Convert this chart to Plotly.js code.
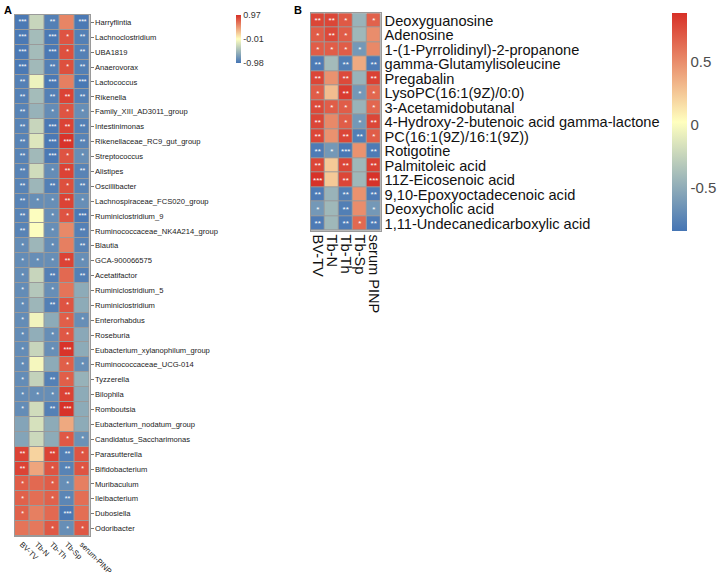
<!DOCTYPE html>
<html>
<head>
<meta charset="utf-8">
<script src="https://cdn.plot.ly/plotly-3.0.1.min.js"></script>
<style>html,body{margin:0;padding:0;background:#fff;}#chart{width:719px;height:578px;}</style>
</head>
<body>
<div id="chart"></div>
<script>
// ---------- Panel A data ----------
const aCols = ['BV-TV','Tb-N','Tb-Th','Tb-Sp','serum-PINP'];
const aRows = ['Harryflintia','Lachnoclostridium','UBA1819','Anaerovorax','Lactococcus','Rikenella',
 'Family_XIII_AD3011_group','Intestinimonas','Rikenellaceae_RC9_gut_group','Streptococcus','Alistipes',
 'Oscillibacter','Lachnospiraceae_FCS020_group','Ruminiclostridium_9','Ruminococcaceae_NK4A214_group',
 'Blautia','GCA-900066575','Acetatifactor','Ruminiclostridium_5','Ruminiclostridium','Enterorhabdus',
 'Roseburia','Eubacterium_xylanophilum_group','Ruminococcaceae_UCG-014','Tyzzerella','Bilophila',
 'Romboutsia','Eubacterium_nodatum_group','Candidatus_Saccharimonas','Parasutterella','Bifidobacterium',
 'Muribaculum','Ileibacterium','Dubosiella','Odoribacter'];
const aValues = [
 [-0.95,-0.30,-0.90, 0.57,-0.95],
 [-0.95,-0.48,-0.95, 0.80,-0.90],
 [-0.95,-0.48,-0.95, 0.82,-0.90],
 [-0.95,-0.50,-0.90, 0.82,-0.90],
 [-0.90,-0.10,-0.95, 0.60,-0.96],
 [-0.90,-0.48,-0.90, 0.88,-0.90],
 [-0.88,-0.55,-0.82, 0.80,-0.80],
 [-0.88,-0.30,-0.95, 0.88,-0.90],
 [-0.88,-0.18,-0.95, 0.95,-0.88],
 [-0.88,-0.50,-0.95, 0.80,-0.80],
 [-0.88,-0.25,-0.82, 0.88,-0.88],
 [-0.88,-0.52,-0.90, 0.82,-0.88],
 [-0.88,-0.80,-0.80, 0.88,-0.80],
 [-0.88,-0.02,-0.80, 0.80,-0.95],
 [-0.88,-0.02,-0.80, 0.55,-0.90],
 [-0.82,-0.52,-0.82, 0.60,-0.88],
 [-0.82,-0.80,-0.80, 0.88,-0.80],
 [-0.82,-0.30,-0.90, 0.70,-0.90],
 [-0.82,-0.40,-0.80, 0.65,-0.60],
 [-0.82,-0.52,-0.90, 0.80,-0.60],
 [-0.82,-0.08,-0.60, 0.75,-0.80],
 [-0.82,-0.58,-0.80, 0.78,-0.62],
 [-0.82,-0.30,-0.80, 0.95,-0.60],
 [-0.82,-0.06,-0.60, 0.75,-0.80],
 [-0.82,-0.32,-0.90, 0.75,-0.55],
 [-0.82,-0.80,-0.80, 0.88,-0.60],
 [-0.82,-0.25,-0.90, 0.96,-0.60],
 [-0.65,-0.22,-0.60, 0.40,-0.60],
 [-0.65,-0.28,-0.60, 0.78,-0.78],
 [ 0.88, 0.20, 0.88,-0.90, 0.80],
 [ 0.88, 0.42, 0.80,-0.88, 0.80],
 [ 0.76, 0.70, 0.76,-0.80, 0.60],
 [ 0.74, 0.68, 0.74,-0.86, 0.68],
 [ 0.74, 0.60, 0.70,-0.95, 0.68],
 [ 0.65, 0.63, 0.78,-0.80, 0.78]
];
const aStars = [
 ['***','','**','','***'],
 ['***','','***','*','**'],
 ['***','','***','*','**'],
 ['***','','**','*','**'],
 ['**','','***','','***'],
 ['**','','**','**','**'],
 ['**','','*','*','*'],
 ['**','','***','**','**'],
 ['**','','***','***','**'],
 ['**','','***','*','*'],
 ['**','','*','**','**'],
 ['**','','**','*','**'],
 ['**','*','*','**','*'],
 ['**','','*','*','***'],
 ['**','','*','','**'],
 ['*','','*','','**'],
 ['*','*','*','**','*'],
 ['*','','**','','**'],
 ['*','','*','',''],
 ['*','','**','*',''],
 ['*','','','*','*'],
 ['*','','*','*',''],
 ['*','','*','***',''],
 ['*','','','*','*'],
 ['*','','**','*',''],
 ['*','*','*','**',''],
 ['*','','**','***',''],
 ['','','','',''],
 ['','','','*','*'],
 ['**','','**','**','*'],
 ['**','','*','**','*'],
 ['*','','*','*',''],
 ['*','','*','**',''],
 ['*','','','***',''],
 ['','','*','*','*']
];
const aTickVals = [0.97, -0.01, -0.98];
const aTickText = ['0.97', '-0.01', '-0.98'];

// ---------- Panel B data ----------
const bCols = ['BV-TV','Tb-N','Tb-Th','Tb-Sp','serum PINP'];
const bRows = ['Deoxyguanosine','Adenosine','1-(1-Pyrrolidinyl)-2-propanone','gamma-Glutamylisoleucine',
 'Pregabalin','LysoPC(16:1(9Z)/0:0)','3-Acetamidobutanal','4-Hydroxy-2-butenoic acid gamma-lactone',
 'PC(16:1(9Z)/16:1(9Z))','Rotigotine','Palmitoleic acid','11Z-Eicosenoic acid',
 '9,10-Epoxyoctadecenoic acid','Deoxycholic acid','1,11-Undecanedicarboxylic acid'];
const bValues = [
 [ 0.80, 0.80, 0.72,-0.45, 0.68],
 [ 0.70, 0.78, 0.70,-0.42, 0.50],
 [ 0.70, 0.70, 0.70,-0.62, 0.52],
 [-0.80,-0.40,-0.78, 0.38,-0.80],
 [ 0.80, 0.48, 0.78,-0.45, 0.82],
 [ 0.70, 0.30, 0.84,-0.62, 0.66],
 [ 0.78, 0.70, 0.70,-0.45, 0.66],
 [ 0.80, 0.52, 0.70,-0.62, 0.80],
 [ 0.80, 0.48, 0.80,-0.78, 0.70],
 [-0.80,-0.62,-0.82, 0.48,-0.80],
 [ 0.80, 0.25, 0.80,-0.42, 0.82],
 [ 0.88, 0.25, 0.80,-0.42, 0.88],
 [-0.80,-0.45,-0.78, 0.48,-0.80],
 [-0.62,-0.42,-0.78, 0.50,-0.62],
 [-0.80,-0.42,-0.80, 0.65,-0.80]
];
const bStars = [
 ['**','**','*','','*'],
 ['*','**','*','',''],
 ['*','*','*','*',''],
 ['**','','**','','**'],
 ['**','','**','','**'],
 ['*','','**','*','*'],
 ['**','*','*','','*'],
 ['**','','*','*','**'],
 ['**','','**','**','*'],
 ['**','*','***','','**'],
 ['**','','**','','**'],
 ['***','','**','','***'],
 ['**','','**','','**'],
 ['*','','**','','*'],
 ['**','','**','*','**']
];
const bTickVals = [0.5, 0, -0.5];
const bTickText = ['0.5', '0', '-0.5'];

// ---------- geometry ----------
const W = 719, H = 578;
const px = v => v / W;
const py = v => 1 - v / H;
const scale = [[0,'#4575B4'],[0.5,'#FFFFBF'],[1,'#D73027']];
const FONT = 'Liberation Sans, Arial, sans-serif';
const border = '#9a9a9a';

const traceA = {
  type: 'heatmap', x: aCols, y: aRows, z: aValues, text: aStars,
  texttemplate: '%{text}', textfont: {color: '#ffffff', size: 7, family: FONT},
  colorscale: scale, zmin: -0.98, zmax: 0.97, xgap: 1, ygap: 1,
  hoverinfo: 'skip', xaxis: 'x', yaxis: 'y',
  colorbar: {
    x: px(235.7), xanchor: 'left', y: py(15), yanchor: 'top',
    len: 48, lenmode: 'pixels', thickness: 5, thicknessmode: 'pixels',
    outlinewidth: 0, ticks: '', xpad: 0, ypad: 0, ticklabelpad: 2,
    tickvals: aTickVals, ticktext: aTickText,
    tickfont: {size: 9, color: '#333', family: FONT}
  }
};
const traceB = {
  type: 'heatmap', x: bCols, y: bRows, z: bValues, text: bStars,
  texttemplate: '%{text}', textfont: {color: '#ffffff', size: 8, family: FONT},
  colorscale: scale, zmin: -0.84, zmax: 0.89, xgap: 1, ygap: 1,
  hoverinfo: 'skip', xaxis: 'x2', yaxis: 'y2',
  colorbar: {
    x: px(672), xanchor: 'left', y: py(12.7), yanchor: 'top',
    len: 218, lenmode: 'pixels', thickness: 15, thicknessmode: 'pixels',
    outlinewidth: 0, ticks: '', xpad: 0, ypad: 0, ticklabelpad: 6,
    tickvals: bTickVals, ticktext: bTickText,
    tickfont: {size: 15, color: '#4d4d4d', family: FONT}
  }
};

const layout = {
  width: W, height: H, autosize: false,
  margin: {l: 0, r: 0, t: 0, b: 0, pad: 0, autoexpand: false},
  paper_bgcolor: '#ffffff', plot_bgcolor: border,
  showlegend: false,
  font: {family: FONT, color: '#1a1a1a'},
  xaxis: {
    domain: [px(14.5), px(89.5)], anchor: 'y', type: 'category',
    tickmode: 'array', tickvals: aCols, ticktext: aCols,
    tickangle: 45, tickfont: {size: 7.6, color: '#1a1a1a'},
    showgrid: false, zeroline: false, showline: true, mirror: true,
    linecolor: border, linewidth: 1, ticks: '', automargin: false, fixedrange: true
  },
  yaxis: {
    domain: [py(536), py(15)], anchor: 'x', type: 'category', side: 'right',
    tickmode: 'array', tickvals: aRows, ticktext: aRows,
    autorange: 'reversed', tickfont: {size: 7.6, color: '#1a1a1a'},
    ticks: 'outside', ticklen: 3, tickcolor: '#777', tickwidth: 1,
    showgrid: false, zeroline: false, showline: true, mirror: true,
    linecolor: border, linewidth: 1, automargin: false, fixedrange: true
  },
  xaxis2: {
    domain: [px(310.7), px(380.7)], anchor: 'y2', type: 'category',
    tickmode: 'array', tickvals: bCols, ticktext: bCols,
    tickangle: 90, tickfont: {size: 14.6, color: '#111'},
    showgrid: false, zeroline: false, showline: true, mirror: true,
    linecolor: border, linewidth: 1, ticks: '', automargin: false, fixedrange: true
  },
  yaxis2: {
    domain: [py(230.7), py(13.3)], anchor: 'x2', type: 'category', side: 'right',
    tickmode: 'array', tickvals: bRows, ticktext: bRows,
    autorange: 'reversed', tickfont: {size: 14.6, color: '#111'}, ticks: '',
    showgrid: false, zeroline: false, showline: true, mirror: true,
    linecolor: border, linewidth: 1, automargin: false, fixedrange: true
  },
  annotations: [
    {text: '<b>A</b>', x: px(2), y: py(2), xref: 'paper', yref: 'paper',
     xanchor: 'left', yanchor: 'top', showarrow: false, font: {size: 11, color: '#000'}},
    {text: '<b>B</b>', x: px(292), y: py(2), xref: 'paper', yref: 'paper',
     xanchor: 'left', yanchor: 'top', showarrow: false, font: {size: 11, color: '#000'}}
  ]
};

Plotly.newPlot('chart', [traceA, traceB], layout, {displayModeBar: false, staticPlot: true});
</script>
</body>
</html>
